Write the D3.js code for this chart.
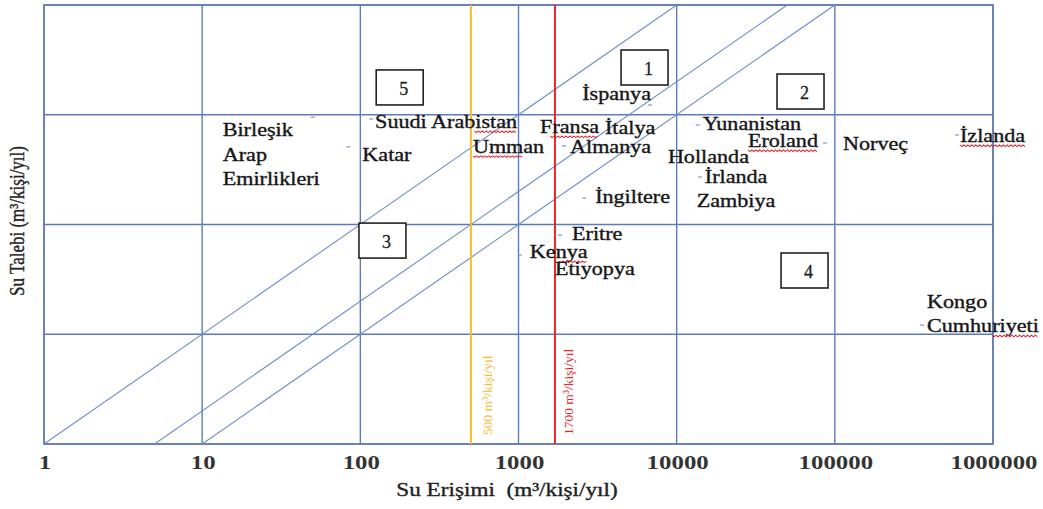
<!DOCTYPE html>
<html>
<head>
<meta charset="utf-8">
<script src="https://cdn.jsdelivr.net/npm/d3@7"></script>
<style>
  html, body { margin: 0; padding: 0; background: #fff; }
  svg { display: block; }
  text { font-family: "Liberation Serif", "Times New Roman", serif; }
</style>
</head>
<body>
<svg id="chart" width="1043" height="509"></svg>
<script>
// Water access (x) vs water demand (y), both per person per year, log-log.
const accessTicks = [1, 10, 100, 1000, 10000, 100000, 1000000];
const demandGrid = [1, 10, 100, 1000, 10000];

const countries = [
  "Birleşik Arap Emirlikleri", "Katar", "Suudi Arabistan", "Umman", "Fransa",
  "İtalya", "Almanya", "İspanya", "İngiltere", "Yunanistan", "Eroland",
  "Hollanda", "İrlanda", "Zambiya", "Norveç", "İzlanda", "Kongo Cumhuriyeti",
  "Eritre", "Kenya", "Etiyopya"
];
const access = [
  50, 84, 117, 515, 1370,
  3520, 1940, 6780, 2600, 13600, 86600,
  8800, 14000, 13400, 112600, 592000, 355700,
  1830, 1020, 1700
];
const demand = [
  950, 510, 915, 500, 757,
  726, 519, 1227, 174, 806, 553,
  403, 271, 160, 530, 654, 12.1,
  80, 52.7, 38.5
];

// demand = access / ratio guide lines
const ratioLines = [1, 5, 10];

// scarcity thresholds
const thresholds = [500, 1700];
const thresholdLabels = ["500 m³/kişi/yıl", "1700 m³/kişi/yıl"];

// numbered regions (top-left corner in data units)
const zoneNames = ["1", "2", "3", "4", "5"];
const zoneAccess = [4450, 43100, 98, 45700, 126];
const zoneDemand = [3890, 2350, 103, 55, 2560];

// label placement relative to each country's point
const labelPlacement = {
  "Birleşik Arap Emirlikleri": { dx: -90, dy: 19, lines: ["Birleşik", "Arap", "Emirlikleri"] },
  "Katar": { dx: 14, dy: 14 },
  "Suudi Arabistan": { dx: 4, dy: 9, wave: [0.7, 1] },
  "Umman": { dx: 0, dy: 5, tick: false, wave: [0, 0.7] },
  "Fransa": { dx: 0, dy: 5, tick: false, wave: [0.17, 1] },
  "İtalya": { dx: 0, dy: 4, tick: false },
  "Almanya": { dx: 6, dy: 7 },
  "İspanya": { dx: 1, dy: -5, anchor: "end" },
  "İngiltere": { dx: 11, dy: 5 },
  "Yunanistan": { dx: 5, dy: 5 },
  "Eroland": { dx: -7, dy: 4, anchor: "end", wave: [0, 1] },
  "Hollanda": { dx: 0, dy: 5, tick: false },
  "İrlanda": { dx: 5, dy: 6 },
  "Zambiya": { dx: 0, dy: 5, tick: false },
  "Norveç": { dx: 0, dy: 5, tick: false },
  "İzlanda": { dx: 3, dy: 7, wave: [0, 1] },
  "Kongo Cumhuriyeti": { dx: 5, dy: -17, lines: ["Kongo", "Cumhuriyeti"], wave: [0.58, 1] },
  "Eritre": { dx: 12, dy: 5 },
  "Kenya": { dx: 10, dy: 3, wave: [0.5, 1] },
  "Etiyopya": { dx: 0, dy: 5, tick: false }
};

const W = 1043, H = 509;
const plot = { left: 44, right: 993, top: 5, bottom: 444 };

const x = d3.scaleLog().domain([1, 1000000]).range([plot.left, plot.right]);
const y = d3.scaleLog().domain([1, 10000]).range([plot.bottom, plot.top]);

const svg = d3.select("#chart");
svg.append("rect").attr("width", W).attr("height", H).attr("fill", "#fff");

const gridColor = "#5a7cbf";

// horizontally widened serif text
function wideText(parent, px, py, str, o) {
  const g = parent.append("g")
    .attr("transform", `translate(${px},${py}) scale(${o.sx},1)`);
  const color = o.color || "#161616";
  const t = g.append("text")
    .attr("text-anchor", o.anchor || "start")
    .attr("font-size", o.size)
    .attr("font-weight", o.weight || "normal")
    .attr("fill", color)
    .attr("stroke", color)
    .attr("stroke-width", o.stroke == null ? 0.35 : o.stroke)
    .text(str);
  return { g, t };
}

function waveUnder(g, t, from, to) {
  const b = t.node().getBBox();
  const x0 = b.x + b.width * from, x1 = b.x + b.width * to;
  const yb = 3;
  let d = `M${x0},${yb}`;
  let k = 0;
  for (let xx = x0 + 1.6; xx <= x1; xx += 1.6, k++) {
    d += `L${xx},${yb + (k % 2 === 0 ? 1.6 : 0)}`;
  }
  g.append("path").attr("d", d).attr("fill", "none")
    .attr("stroke", "#e0262a").attr("stroke-width", 0.9);
}

// grid
const grid = svg.append("g");
grid.selectAll("line.v").data(accessTicks).join("line")
  .attr("x1", d => x(d)).attr("x2", d => x(d))
  .attr("y1", plot.top).attr("y2", plot.bottom)
  .attr("stroke", gridColor).attr("stroke-width", 1.4);
grid.selectAll("line.h").data(demandGrid).join("line")
  .attr("x1", plot.left).attr("x2", plot.right)
  .attr("y1", d => y(d)).attr("y2", d => y(d))
  .attr("stroke", gridColor).attr("stroke-width", 1.4);

// frame
svg.append("rect")
  .attr("x", plot.left).attr("y", plot.top)
  .attr("width", plot.right - plot.left).attr("height", plot.bottom - plot.top)
  .attr("fill", "none").attr("stroke", "#6680b0").attr("stroke-width", 1.8);

// ratio lines
svg.append("g").selectAll("line").data(ratioLines).join("line")
  .attr("x1", r => x(r)).attr("y1", y(1))
  .attr("x2", r => x(r * 10000)).attr("y2", y(10000))
  .attr("stroke", "#6f8ecb").attr("stroke-width", 1.1);

// thresholds
const thrColors = ["#f4bd2e", "#e8262a"];
const thr = svg.append("g");
thr.selectAll("line").data(thresholds).join("line")
  .attr("x1", d => x(d)).attr("x2", d => x(d))
  .attr("y1", plot.top).attr("y2", plot.bottom)
  .attr("stroke", (d, i) => thrColors[i]).attr("stroke-width", 2);
thr.selectAll("text").data(thresholds).join("text")
  .attr("transform", (d, i) => `translate(${x(d) + (i === 0 ? 17 : 14)},435) rotate(-90)`)
  .attr("dominant-baseline", "central")
  .attr("font-size", 13.5)
  .attr("fill", (d, i) => thrColors[i])
  .text((d, i) => thresholdLabels[i]);

// numbered regions
const zoneW = 47, zoneH = 35;
const zones = svg.append("g");
zoneNames.forEach((name, i) => {
  const zx = x(zoneAccess[i]), zy = y(zoneDemand[i]);
  zones.append("rect")
    .attr("x", zx).attr("y", zy).attr("width", zoneW).attr("height", zoneH)
    .attr("fill", "#fff").attr("stroke", "#222").attr("stroke-width", 1.6);
  zones.append("text")
    .attr("x", zx + zoneW / 2 + 4).attr("y", zy + 25)
    .attr("text-anchor", "middle").attr("font-size", 18).attr("fill", "#222")
    .attr("stroke", "#222").attr("stroke-width", 0.3)
    .text(name);
});

// countries
const pts = svg.append("g");
countries.forEach((name, i) => {
  const px = x(access[i]), py = y(demand[i]);
  const p = labelPlacement[name];
  if (p.tick !== false) {
    pts.append("line")
      .attr("x1", px - 2).attr("x2", px + 2).attr("y1", py).attr("y2", py)
      .attr("stroke", "#7f98c4").attr("stroke-width", 1.2);
  }
  const lines = p.lines || [name];
  lines.forEach((ln, j) => {
    const gap = name === "Kongo Cumhuriyeti" ? 24 : 24.5;
    const { g, t } = wideText(pts, px + p.dx, py + p.dy + j * gap, ln,
      { size: 18, sx: 1.23, anchor: p.anchor });
    if (p.wave && j === lines.length - 1) waveUnder(g, t, p.wave[0], p.wave[1]);
  });
});

// x tick labels
accessTicks.forEach(v => {
  wideText(svg, x(v) + 1, 469, String(v),
    { size: 18, sx: 1.38, anchor: "middle", weight: "bold", color: "#333", stroke: 0 });
});

// axis titles
wideText(svg, 507, 496, "Su Erişimi \u00A0(m³/kişi/yıl)",
  { size: 19, sx: 1.22, anchor: "middle", color: "#222" });

svg.append("text")
  .attr("transform", "translate(17,221) rotate(-90) scale(1,1.25)")
  .attr("text-anchor", "middle").attr("dominant-baseline", "central")
  .attr("font-size", 17).attr("fill", "#222")
  .attr("stroke", "#222").attr("stroke-width", 0.3)
  .text("Su Talebi (m³/kişi/yıl)");
</script>
</body>
</html>
